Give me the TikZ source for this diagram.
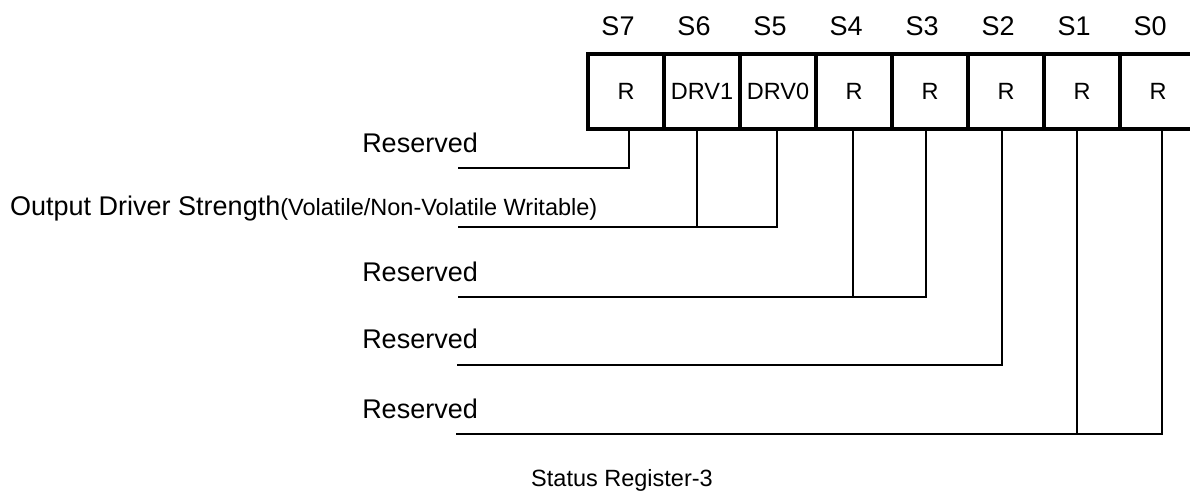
\documentclass[tikz,border=0pt]{standalone}
\usepackage{fontspec}
\setmainfont{Liberation Sans}
\begin{document}
\begin{tikzpicture}[x=1pt,y=-1pt,
  cell/.style={draw, line width=4pt, minimum width=76pt, minimum height=75pt, inner sep=0pt, font=\fontsize{23.5}{28}\selectfont},
  bitlbl/.style={anchor=base, inner sep=0pt, font=\fontsize{27}{32}\selectfont},
  fieldlbl/.style={anchor=base east, inner sep=0pt, font=\fontsize{27}{32}\selectfont},
  small/.style={font=\fontsize{23.5}{28}\selectfont},
  wire/.style={line width=2.5pt}]
\useasboundingbox (0,0) rectangle (1190,492);

% register cells and bit labels
\foreach \i/\t [count=\k from 0] in {7/R,6/DRV1,5/DRV0,4/R,3/R,2/R,1/R,0/R} {
  \node[cell] (c\i) at (626+76*\k, 91.5) {\t};
  \node[bitlbl] (s\i) at (618+76*\k, 36) {S\i};
}

% wire attachment points under the cells
\coordinate (b7) at ([xshift=3pt]c7.south);
\coordinate (b6) at ([xshift=-5pt]c6.south);
\coordinate (b5) at ([xshift=-1pt]c5.south);
\coordinate (b4) at ([xshift=-1pt]c4.south);
\coordinate (b3) at ([xshift=-4pt]c3.south);
\coordinate (b2) at ([xshift=-4pt]c2.south);
\coordinate (b1) at ([xshift=-5pt]c1.south);
\coordinate (b0) at ([xshift=4pt]c0.south);

% free ends of the field lines
\coordinate (e1) at (458,168);
\coordinate (e2) at (458,227);
\coordinate (e3) at (458,297);
\coordinate (e4) at (457,365);
\coordinate (e5) at (456,434);

% field labels
\node[fieldlbl] (r1) at (478,152) {Reserved};
\node[anchor=base west, inner sep=0pt] (od) at (10,215)
  {{\fontsize{27}{32}\selectfont Output Driver Strength}{\fontsize{23.5}{28}\selectfont(Volatile/Non-Volatile Writable)}};
\node[fieldlbl] (r3) at (478,281) {Reserved};
\node[fieldlbl] (r4) at (478,348) {Reserved};
\node[fieldlbl] (r5) at (478,418) {Reserved};

% wires
\draw[wire] (b7) |- (e1);
\draw[wire] (b5) |- (e2);
\draw[wire] (b6) -- (b6 |- e2);
\draw[wire] (b3) |- (e3);
\draw[wire] (b4) -- (b4 |- e3);
\draw[wire] (b2) |- (e4);
\draw[wire] (b0) |- (e5);
\draw[wire] (b1) -- (b1 |- e5);

% caption
\node[anchor=base, inner sep=0pt, small] (title) at (622,486) {Status Register-3};
\end{tikzpicture}
\end{document}
